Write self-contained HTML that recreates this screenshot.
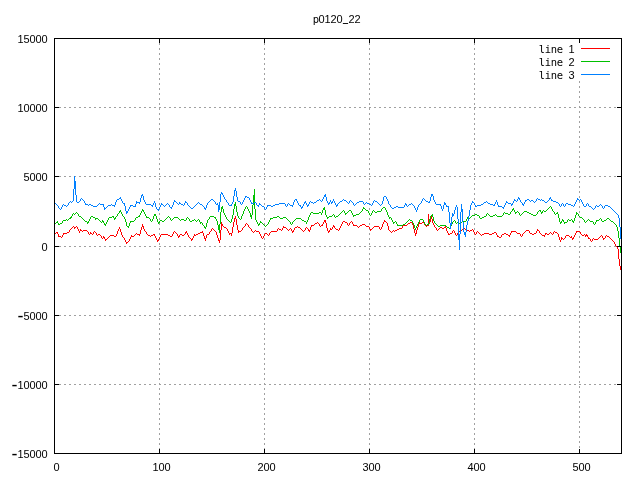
<!DOCTYPE html>
<html><head><meta charset="utf-8"><title>p0120_22</title>
<style>html,body{margin:0;padding:0;background:#fff;overflow:hidden}svg{display:block}text{font-family:"Liberation Sans","DejaVu Sans",sans-serif;font-size:11px;fill:#000}.h{font-size:18px}.u{font-size:14px}.m{font-family:"DejaVu Sans Mono","Liberation Mono",monospace;font-size:10.5px}</style></head><body>
<svg width="640" height="480" viewBox="0 0 640 480">
<rect width="640" height="480" fill="#fff"/>
<g stroke="#a0a0a0" stroke-width="1" stroke-dasharray="2 3" shape-rendering="crispEdges" fill="none">
<path d="M159.5 38 V453"/>
<path d="M264.5 38 V453"/>
<path d="M369.5 38 V453"/>
<path d="M474.5 38 V453"/>
<path d="M579.5 81 V453"/>
<path d="M54 107.5 H622"/>
<path d="M54 176.5 H622"/>
<path d="M54 246.5 H622"/>
<path d="M54 315.5 H622"/>
<path d="M54 384.5 H622"/>
</g>
<path fill="#ff0000" shape-rendering="crispEdges" d="M55 233h1v1h-1zM56 232h1v1h-1zM57 232h1v2h-1zM58 234h1v3h-1zM59 236h1v1h-1zM60 236h1v1h-1zM61 237h1v1h-1zM62 235h1v2h-1zM63 233h1v2h-1zM64 233h1v1h-1zM65 233h1v1h-1zM66 233h1v1h-1zM67 232h1v1h-1zM68 232h1v1h-1zM69 230h1v2h-1zM70 229h1v1h-1zM71 228h1v1h-1zM72 227h1v1h-1zM73 226h1v1h-1zM74 227h1v2h-1zM75 227h1v1h-1zM76 226h1v1h-1zM77 227h1v2h-1zM78 229h1v2h-1zM79 231h1v2h-1zM80 229h1v2h-1zM81 230h1v1h-1zM82 231h1v1h-1zM83 230h1v1h-1zM84 230h1v1h-1zM85 230h1v1h-1zM86 230h1v1h-1zM87 231h1v1h-1zM88 232h1v2h-1zM89 234h1v1h-1zM90 232h1v2h-1zM91 233h1v1h-1zM92 234h1v1h-1zM93 232h1v2h-1zM94 231h1v1h-1zM95 232h1v1h-1zM96 233h1v2h-1zM97 235h1v1h-1zM98 234h1v1h-1zM99 234h1v1h-1zM100 235h1v1h-1zM101 236h1v2h-1zM102 238h1v1h-1zM103 236h1v2h-1zM104 237h1v2h-1zM105 239h1v2h-1zM106 239h1v1h-1zM107 238h1v1h-1zM108 237h1v1h-1zM109 236h1v1h-1zM110 235h1v1h-1zM111 235h1v1h-1zM112 235h1v1h-1zM113 235h1v1h-1zM114 236h1v1h-1zM115 236h1v1h-1zM116 234h1v2h-1zM117 231h1v3h-1zM118 229h1v2h-1zM119 227h1v2h-1zM120 229h1v3h-1zM121 232h1v3h-1zM122 235h1v2h-1zM123 237h1v1h-1zM124 238h1v2h-1zM125 240h1v2h-1zM126 242h1v2h-1zM127 242h1v1h-1zM128 241h1v1h-1zM129 239h1v2h-1zM130 237h1v2h-1zM131 235h1v2h-1zM132 236h1v1h-1zM133 236h1v1h-1zM134 235h1v1h-1zM135 234h1v1h-1zM136 233h1v1h-1zM137 234h1v1h-1zM138 234h1v1h-1zM139 234h1v2h-1zM140 230h1v4h-1zM141 227h1v3h-1zM142 224h1v3h-1zM143 226h1v3h-1zM144 229h1v2h-1zM145 231h1v1h-1zM146 232h1v2h-1zM147 234h1v1h-1zM148 235h1v1h-1zM149 235h1v1h-1zM150 236h1v1h-1zM151 235h1v1h-1zM152 235h1v1h-1zM153 234h1v1h-1zM154 234h1v2h-1zM155 236h1v2h-1zM156 238h1v2h-1zM157 240h1v2h-1zM158 239h1v2h-1zM159 237h1v2h-1zM160 235h1v2h-1zM161 234h1v1h-1zM162 234h1v1h-1zM163 234h1v1h-1zM164 234h1v1h-1zM165 234h1v1h-1zM166 234h1v1h-1zM167 234h1v1h-1zM168 235h1v1h-1zM169 235h1v1h-1zM170 236h1v1h-1zM171 236h1v1h-1zM172 234h1v2h-1zM173 232h1v2h-1zM174 231h1v1h-1zM175 232h1v1h-1zM176 233h1v1h-1zM177 234h1v2h-1zM178 236h1v2h-1zM179 235h1v2h-1zM180 234h1v1h-1zM181 234h1v1h-1zM182 235h1v1h-1zM183 235h1v1h-1zM184 234h1v1h-1zM185 232h1v2h-1zM186 231h1v2h-1zM187 233h1v2h-1zM188 235h1v2h-1zM189 237h1v1h-1zM190 238h1v1h-1zM191 239h1v2h-1zM192 238h1v2h-1zM193 236h1v2h-1zM194 234h1v2h-1zM195 235h1v1h-1zM196 234h1v1h-1zM197 234h1v1h-1zM198 233h1v1h-1zM199 233h1v1h-1zM200 232h1v1h-1zM201 232h1v1h-1zM202 231h1v2h-1zM203 233h1v3h-1zM204 236h1v3h-1zM205 238h1v3h-1zM206 235h1v3h-1zM207 234h1v1h-1zM208 234h1v1h-1zM209 232h1v2h-1zM210 231h1v1h-1zM211 229h1v2h-1zM212 228h1v1h-1zM213 229h1v1h-1zM214 230h1v1h-1zM215 231h1v1h-1zM216 232h1v3h-1zM217 235h1v3h-1zM218 238h1v3h-1zM219 240h1v3h-1zM220 230h1v10h-1zM221 222h1v8h-1zM222 224h1v2h-1zM223 226h1v1h-1zM224 227h1v1h-1zM225 227h1v1h-1zM226 228h1v1h-1zM227 229h1v2h-1zM228 231h1v2h-1zM229 233h1v2h-1zM230 233h1v1h-1zM231 233h1v3h-1zM232 227h1v6h-1zM233 222h1v5h-1zM234 218h1v4h-1zM235 216h1v3h-1zM236 219h1v6h-1zM237 225h1v5h-1zM238 230h1v3h-1zM239 231h1v1h-1zM240 231h1v1h-1zM241 230h1v1h-1zM242 228h1v2h-1zM243 227h1v1h-1zM244 226h1v1h-1zM245 224h1v2h-1zM246 223h1v1h-1zM247 224h1v1h-1zM248 225h1v2h-1zM249 227h1v1h-1zM250 228h1v1h-1zM251 229h1v2h-1zM252 231h1v1h-1zM253 232h1v1h-1zM254 231h1v1h-1zM255 230h1v1h-1zM256 231h1v1h-1zM257 231h1v1h-1zM258 231h1v1h-1zM259 232h1v2h-1zM260 234h1v2h-1zM261 236h1v2h-1zM262 238h1v1h-1zM263 236h1v2h-1zM264 234h1v2h-1zM265 233h1v1h-1zM266 233h1v1h-1zM267 234h1v1h-1zM268 235h1v1h-1zM269 233h1v2h-1zM270 232h1v1h-1zM271 231h1v1h-1zM272 231h1v1h-1zM273 231h1v1h-1zM274 231h1v1h-1zM275 231h1v1h-1zM276 231h1v1h-1zM277 229h1v2h-1zM278 228h1v1h-1zM279 229h1v1h-1zM280 229h1v1h-1zM281 230h1v1h-1zM282 228h1v2h-1zM283 226h1v2h-1zM284 227h1v1h-1zM285 227h1v1h-1zM286 228h1v1h-1zM287 229h1v1h-1zM288 230h1v1h-1zM289 229h1v1h-1zM290 228h1v1h-1zM291 229h1v2h-1zM292 231h1v2h-1zM293 230h1v2h-1zM294 228h1v2h-1zM295 227h1v1h-1zM296 227h1v1h-1zM297 226h1v1h-1zM298 227h1v1h-1zM299 227h1v1h-1zM300 228h1v1h-1zM301 229h1v1h-1zM302 230h1v1h-1zM303 231h1v1h-1zM304 230h1v1h-1zM305 228h1v2h-1zM306 227h1v1h-1zM307 228h1v1h-1zM308 229h1v2h-1zM309 230h1v2h-1zM310 227h1v3h-1zM311 225h1v2h-1zM312 225h1v1h-1zM313 225h1v1h-1zM314 224h1v1h-1zM315 223h1v1h-1zM316 223h1v1h-1zM317 222h1v1h-1zM318 223h1v1h-1zM319 224h1v2h-1zM320 226h1v1h-1zM321 225h1v1h-1zM322 224h1v2h-1zM323 222h1v2h-1zM324 220h1v2h-1zM325 220h1v3h-1zM326 223h1v5h-1zM327 228h1v3h-1zM328 231h1v2h-1zM329 230h1v2h-1zM330 228h1v2h-1zM331 229h1v1h-1zM332 227h1v2h-1zM333 225h1v2h-1zM334 226h1v2h-1zM335 228h1v1h-1zM336 229h1v1h-1zM337 229h1v1h-1zM338 230h1v1h-1zM339 228h1v2h-1zM340 226h1v2h-1zM341 224h1v2h-1zM342 222h1v2h-1zM343 221h1v1h-1zM344 221h1v1h-1zM345 222h1v1h-1zM346 222h1v1h-1zM347 223h1v2h-1zM348 225h1v1h-1zM349 223h1v2h-1zM350 222h1v1h-1zM351 221h1v1h-1zM352 222h1v2h-1zM353 224h1v2h-1zM354 225h1v1h-1zM355 225h1v1h-1zM356 225h1v1h-1zM357 226h1v1h-1zM358 227h1v1h-1zM359 226h1v1h-1zM360 225h1v1h-1zM361 225h1v1h-1zM362 224h1v1h-1zM363 224h1v1h-1zM364 224h1v1h-1zM365 225h1v1h-1zM366 226h1v1h-1zM367 226h1v1h-1zM368 226h1v1h-1zM369 227h1v2h-1zM370 229h1v2h-1zM371 229h1v1h-1zM372 228h1v1h-1zM373 227h1v1h-1zM374 226h1v1h-1zM375 226h1v1h-1zM376 226h1v1h-1zM377 226h1v1h-1zM378 226h1v1h-1zM379 227h1v2h-1zM380 229h1v1h-1zM381 227h1v2h-1zM382 224h1v3h-1zM383 222h1v2h-1zM384 220h1v2h-1zM385 221h1v1h-1zM386 222h1v1h-1zM387 223h1v3h-1zM388 226h1v4h-1zM389 230h1v1h-1zM390 231h1v1h-1zM391 232h1v1h-1zM392 231h1v1h-1zM393 230h1v1h-1zM394 231h1v1h-1zM395 230h1v1h-1zM396 230h1v1h-1zM397 229h1v1h-1zM398 229h1v1h-1zM399 228h1v1h-1zM400 228h1v1h-1zM401 228h1v1h-1zM402 226h1v2h-1zM403 225h1v1h-1zM404 225h1v1h-1zM405 225h1v1h-1zM406 225h1v1h-1zM407 224h1v1h-1zM408 223h1v1h-1zM409 223h1v1h-1zM410 222h1v1h-1zM411 222h1v1h-1zM412 223h1v2h-1zM413 225h1v4h-1zM414 229h1v4h-1zM415 233h1v3h-1zM416 230h1v4h-1zM417 227h1v3h-1zM418 224h1v3h-1zM419 222h1v2h-1zM420 223h1v1h-1zM421 223h1v1h-1zM422 222h1v1h-1zM423 222h1v1h-1zM424 223h1v2h-1zM425 225h1v1h-1zM426 226h1v1h-1zM427 225h1v1h-1zM428 214h1v12h-1zM429 219h1v5h-1zM430 218h1v4h-1zM431 216h1v3h-1zM432 219h1v4h-1zM433 223h1v2h-1zM434 225h1v2h-1zM435 227h1v1h-1zM436 228h1v2h-1zM437 230h1v1h-1zM438 229h1v1h-1zM439 228h1v1h-1zM440 227h1v1h-1zM441 227h1v1h-1zM442 228h1v1h-1zM443 228h1v1h-1zM444 227h1v1h-1zM445 226h1v2h-1zM446 228h1v3h-1zM447 231h1v2h-1zM448 233h1v2h-1zM449 234h1v1h-1zM450 233h1v1h-1zM451 233h1v1h-1zM452 231h1v2h-1zM453 230h1v1h-1zM454 231h1v2h-1zM455 233h1v2h-1zM456 235h1v1h-1zM457 233h1v2h-1zM458 232h1v1h-1zM459 231h1v1h-1zM460 231h1v1h-1zM461 230h1v1h-1zM462 229h1v1h-1zM463 229h1v1h-1zM464 228h1v1h-1zM465 229h1v1h-1zM466 229h1v1h-1zM467 230h1v1h-1zM468 230h1v1h-1zM469 231h1v1h-1zM470 230h1v1h-1zM471 230h1v1h-1zM472 229h1v1h-1zM473 230h1v2h-1zM474 232h1v2h-1zM475 234h1v1h-1zM476 232h1v2h-1zM477 231h1v1h-1zM478 232h1v1h-1zM479 233h1v1h-1zM480 234h1v1h-1zM481 235h1v1h-1zM482 234h1v1h-1zM483 234h1v1h-1zM484 233h1v1h-1zM485 233h1v1h-1zM486 233h1v1h-1zM487 233h1v1h-1zM488 233h1v1h-1zM489 234h1v1h-1zM490 234h1v1h-1zM491 234h1v1h-1zM492 233h1v1h-1zM493 233h1v1h-1zM494 232h1v1h-1zM495 232h1v1h-1zM496 233h1v2h-1zM497 235h1v2h-1zM498 236h1v1h-1zM499 237h1v1h-1zM500 237h1v1h-1zM501 235h1v2h-1zM502 234h1v1h-1zM503 234h1v1h-1zM504 233h1v1h-1zM505 233h1v1h-1zM506 234h1v1h-1zM507 234h1v1h-1zM508 235h1v1h-1zM509 235h1v2h-1zM510 233h1v2h-1zM511 231h1v2h-1zM512 231h1v1h-1zM513 231h1v1h-1zM514 231h1v1h-1zM515 231h1v1h-1zM516 232h1v1h-1zM517 233h1v1h-1zM518 233h1v1h-1zM519 233h1v1h-1zM520 234h1v2h-1zM521 236h1v1h-1zM522 234h1v2h-1zM523 233h1v1h-1zM524 232h1v1h-1zM525 231h1v1h-1zM526 230h1v1h-1zM527 230h1v1h-1zM528 230h1v1h-1zM529 231h1v2h-1zM530 233h1v1h-1zM531 233h1v1h-1zM532 234h1v1h-1zM533 234h1v1h-1zM534 233h1v1h-1zM535 233h1v1h-1zM536 231h1v2h-1zM537 229h1v2h-1zM538 230h1v1h-1zM539 231h1v2h-1zM540 233h1v1h-1zM541 234h1v1h-1zM542 235h1v1h-1zM543 235h1v1h-1zM544 235h1v2h-1zM545 233h1v2h-1zM546 233h1v1h-1zM547 234h1v1h-1zM548 234h1v1h-1zM549 233h1v1h-1zM550 232h1v1h-1zM551 233h1v1h-1zM552 234h1v1h-1zM553 232h1v2h-1zM554 231h1v1h-1zM555 232h1v1h-1zM556 232h1v1h-1zM557 233h1v1h-1zM558 234h1v3h-1zM559 237h1v3h-1zM560 240h1v2h-1zM561 237h1v3h-1zM562 238h1v1h-1zM563 239h1v1h-1zM564 238h1v1h-1zM565 236h1v2h-1zM566 235h1v1h-1zM567 235h1v1h-1zM568 235h1v1h-1zM569 236h1v1h-1zM570 237h1v1h-1zM571 236h1v2h-1zM572 238h1v2h-1zM573 237h1v2h-1zM574 235h1v2h-1zM575 233h1v2h-1zM576 231h1v2h-1zM577 231h1v1h-1zM578 231h1v1h-1zM579 231h1v1h-1zM580 232h1v2h-1zM581 234h1v1h-1zM582 235h1v1h-1zM583 235h1v1h-1zM584 234h1v1h-1zM585 235h1v2h-1zM586 234h1v2h-1zM587 235h1v2h-1zM588 237h1v2h-1zM589 238h1v1h-1zM590 239h1v2h-1zM591 241h1v1h-1zM592 239h1v2h-1zM593 238h1v1h-1zM594 239h1v1h-1zM595 239h1v1h-1zM596 239h1v1h-1zM597 239h1v1h-1zM598 238h1v1h-1zM599 237h1v1h-1zM600 236h1v1h-1zM601 235h1v1h-1zM602 236h1v2h-1zM603 238h1v2h-1zM604 238h1v1h-1zM605 236h1v2h-1zM606 235h1v1h-1zM607 236h1v1h-1zM608 236h1v1h-1zM609 237h1v1h-1zM610 238h1v1h-1zM611 239h1v1h-1zM612 240h1v1h-1zM613 241h1v1h-1zM614 242h1v2h-1zM615 244h1v2h-1zM616 246h1v1h-1zM617 247h1v2h-1zM618 249h1v10h-1zM619 259h1v7h-1zM620 266h1v4h-1z"/>
<path fill="#00c000" shape-rendering="crispEdges" d="M55 223h1v1h-1zM56 222h1v1h-1zM57 221h1v2h-1zM58 223h1v2h-1zM59 224h1v1h-1zM60 223h1v1h-1zM61 223h1v1h-1zM62 221h1v2h-1zM63 220h1v1h-1zM64 220h1v1h-1zM65 220h1v1h-1zM66 219h1v1h-1zM67 220h1v1h-1zM68 219h1v1h-1zM69 218h1v1h-1zM70 217h1v2h-1zM71 216h1v2h-1zM72 214h1v2h-1zM73 213h1v1h-1zM74 214h1v1h-1zM75 213h1v1h-1zM76 212h1v1h-1zM77 213h1v1h-1zM78 214h1v2h-1zM79 216h1v1h-1zM80 216h1v1h-1zM81 217h1v1h-1zM82 218h1v1h-1zM83 219h1v1h-1zM84 220h1v1h-1zM85 221h1v1h-1zM86 221h1v1h-1zM87 222h1v2h-1zM88 221h1v2h-1zM89 219h1v2h-1zM90 217h1v2h-1zM91 216h1v1h-1zM92 216h1v1h-1zM93 217h1v1h-1zM94 217h1v1h-1zM95 218h1v2h-1zM96 218h1v1h-1zM97 218h1v1h-1zM98 219h1v1h-1zM99 220h1v1h-1zM100 221h1v1h-1zM101 222h1v1h-1zM102 220h1v2h-1zM103 221h1v2h-1zM104 223h1v2h-1zM105 224h1v2h-1zM106 222h1v2h-1zM107 220h1v2h-1zM108 218h1v2h-1zM109 217h1v1h-1zM110 217h1v1h-1zM111 217h1v1h-1zM112 216h1v1h-1zM113 216h1v2h-1zM114 218h1v2h-1zM115 217h1v2h-1zM116 216h1v1h-1zM117 214h1v2h-1zM118 213h1v1h-1zM119 211h1v2h-1zM120 210h1v2h-1zM121 212h1v2h-1zM122 214h1v2h-1zM123 216h1v1h-1zM124 217h1v2h-1zM125 219h1v3h-1zM126 222h1v4h-1zM127 226h1v1h-1zM128 226h1v2h-1zM129 223h1v3h-1zM130 221h1v2h-1zM131 221h1v1h-1zM132 221h1v1h-1zM133 221h1v1h-1zM134 220h1v1h-1zM135 218h1v2h-1zM136 217h1v1h-1zM137 217h1v1h-1zM138 216h1v1h-1zM139 215h1v2h-1zM140 213h1v2h-1zM141 211h1v2h-1zM142 209h1v2h-1zM143 210h1v2h-1zM144 212h1v2h-1zM145 214h1v2h-1zM146 216h1v2h-1zM147 217h1v1h-1zM148 217h1v1h-1zM149 218h1v1h-1zM150 219h1v2h-1zM151 221h1v1h-1zM152 219h1v2h-1zM153 216h1v3h-1zM154 214h1v2h-1zM155 214h1v2h-1zM156 216h1v3h-1zM157 219h1v3h-1zM158 222h1v2h-1zM159 221h1v2h-1zM160 220h1v1h-1zM161 220h1v1h-1zM162 221h1v1h-1zM163 221h1v1h-1zM164 220h1v1h-1zM165 219h1v1h-1zM166 218h1v1h-1zM167 217h1v1h-1zM168 216h1v1h-1zM169 217h1v1h-1zM170 218h1v2h-1zM171 220h1v1h-1zM172 219h1v1h-1zM173 218h1v1h-1zM174 217h1v1h-1zM175 217h1v1h-1zM176 217h1v1h-1zM177 217h1v1h-1zM178 218h1v1h-1zM179 219h1v1h-1zM180 220h1v1h-1zM181 219h1v1h-1zM182 219h1v1h-1zM183 219h1v1h-1zM184 220h1v1h-1zM185 220h1v1h-1zM186 218h1v2h-1zM187 217h1v1h-1zM188 218h1v1h-1zM189 219h1v2h-1zM190 221h1v1h-1zM191 221h1v1h-1zM192 220h1v1h-1zM193 220h1v1h-1zM194 219h1v1h-1zM195 220h1v1h-1zM196 221h1v1h-1zM197 220h1v1h-1zM198 219h1v1h-1zM199 220h1v2h-1zM200 222h1v2h-1zM201 222h1v1h-1zM202 223h1v2h-1zM203 225h1v1h-1zM204 226h1v2h-1zM205 227h1v2h-1zM206 223h1v4h-1zM207 220h1v3h-1zM208 219h1v1h-1zM209 217h1v2h-1zM210 216h1v1h-1zM211 216h1v1h-1zM212 216h1v1h-1zM213 216h1v1h-1zM214 217h1v1h-1zM215 217h1v2h-1zM216 219h1v2h-1zM217 221h1v4h-1zM218 225h1v5h-1zM219 224h1v9h-1zM220 212h1v12h-1zM221 207h1v5h-1zM222 206h1v3h-1zM223 209h1v4h-1zM224 213h1v2h-1zM225 215h1v2h-1zM226 217h1v2h-1zM227 219h1v1h-1zM228 220h1v1h-1zM229 221h1v1h-1zM230 222h1v1h-1zM231 219h1v3h-1zM232 215h1v4h-1zM233 209h1v6h-1zM234 204h1v5h-1zM235 202h1v4h-1zM236 206h1v6h-1zM237 212h1v4h-1zM238 216h1v2h-1zM239 218h1v1h-1zM240 219h1v1h-1zM241 216h1v3h-1zM242 214h1v2h-1zM243 211h1v3h-1zM244 209h1v2h-1zM245 207h1v2h-1zM246 206h1v1h-1zM247 207h1v2h-1zM248 209h1v2h-1zM249 211h1v2h-1zM250 213h1v4h-1zM251 215h1v4h-1zM252 205h1v10h-1zM253 195h1v10h-1zM254 189h1v20h-1zM255 209h1v11h-1zM256 220h1v2h-1zM257 222h1v2h-1zM258 224h1v2h-1zM259 223h1v2h-1zM260 221h1v2h-1zM261 222h1v1h-1zM262 223h1v1h-1zM263 224h1v1h-1zM264 225h1v1h-1zM265 226h1v1h-1zM266 225h1v1h-1zM267 224h1v1h-1zM268 222h1v2h-1zM269 220h1v2h-1zM270 218h1v2h-1zM271 218h1v1h-1zM272 218h1v1h-1zM273 217h1v1h-1zM274 217h1v1h-1zM275 217h1v1h-1zM276 217h1v1h-1zM277 216h1v1h-1zM278 216h1v1h-1zM279 217h1v1h-1zM280 218h1v1h-1zM281 218h1v1h-1zM282 218h1v1h-1zM283 217h1v1h-1zM284 217h1v1h-1zM285 217h1v1h-1zM286 218h1v1h-1zM287 219h1v1h-1zM288 220h1v1h-1zM289 221h1v1h-1zM290 222h1v2h-1zM291 224h1v1h-1zM292 222h1v2h-1zM293 221h1v1h-1zM294 220h1v1h-1zM295 219h1v1h-1zM296 218h1v1h-1zM297 218h1v1h-1zM298 218h1v1h-1zM299 218h1v1h-1zM300 218h1v1h-1zM301 219h1v1h-1zM302 220h1v1h-1zM303 220h1v1h-1zM304 221h1v1h-1zM305 221h1v1h-1zM306 222h1v2h-1zM307 220h1v2h-1zM308 217h1v3h-1zM309 215h1v2h-1zM310 213h1v2h-1zM311 212h1v1h-1zM312 212h1v1h-1zM313 213h1v1h-1zM314 213h1v1h-1zM315 213h1v1h-1zM316 213h1v1h-1zM317 213h1v1h-1zM318 213h1v1h-1zM319 212h1v1h-1zM320 212h1v1h-1zM321 213h1v2h-1zM322 210h1v3h-1zM323 208h1v2h-1zM324 207h1v3h-1zM325 210h1v5h-1zM326 215h1v2h-1zM327 217h1v2h-1zM328 217h1v1h-1zM329 216h1v1h-1zM330 216h1v1h-1zM331 216h1v1h-1zM332 215h1v1h-1zM333 214h1v1h-1zM334 215h1v2h-1zM335 217h1v1h-1zM336 216h1v1h-1zM337 216h1v1h-1zM338 215h1v1h-1zM339 214h1v1h-1zM340 213h1v1h-1zM341 212h1v1h-1zM342 211h1v1h-1zM343 210h1v1h-1zM344 211h1v2h-1zM345 213h1v2h-1zM346 213h1v1h-1zM347 212h1v1h-1zM348 211h1v1h-1zM349 210h1v1h-1zM350 210h1v1h-1zM351 211h1v2h-1zM352 213h1v2h-1zM353 215h1v2h-1zM354 215h1v1h-1zM355 215h1v1h-1zM356 214h1v1h-1zM357 214h1v1h-1zM358 214h1v1h-1zM359 213h1v1h-1zM360 212h1v1h-1zM361 211h1v1h-1zM362 209h1v2h-1zM363 207h1v2h-1zM364 208h1v1h-1zM365 209h1v1h-1zM366 210h1v1h-1zM367 210h1v1h-1zM368 211h1v2h-1zM369 213h1v2h-1zM370 215h1v1h-1zM371 213h1v2h-1zM372 211h1v2h-1zM373 210h1v1h-1zM374 211h1v1h-1zM375 212h1v1h-1zM376 212h1v1h-1zM377 211h1v1h-1zM378 211h1v1h-1zM379 211h1v1h-1zM380 211h1v1h-1zM381 209h1v2h-1zM382 208h1v1h-1zM383 207h1v1h-1zM384 207h1v1h-1zM385 208h1v2h-1zM386 210h1v2h-1zM387 212h1v3h-1zM388 215h1v2h-1zM389 217h1v2h-1zM390 217h1v1h-1zM391 218h1v2h-1zM392 220h1v2h-1zM393 222h1v2h-1zM394 222h1v1h-1zM395 221h1v1h-1zM396 222h1v2h-1zM397 224h1v2h-1zM398 225h1v1h-1zM399 225h1v1h-1zM400 225h1v1h-1zM401 225h1v1h-1zM402 225h1v1h-1zM403 224h1v1h-1zM404 224h1v1h-1zM405 223h1v1h-1zM406 222h1v1h-1zM407 221h1v1h-1zM408 220h1v1h-1zM409 219h1v1h-1zM410 220h1v1h-1zM411 220h1v1h-1zM412 221h1v2h-1zM413 223h1v2h-1zM414 225h1v3h-1zM415 228h1v2h-1zM416 226h1v2h-1zM417 224h1v2h-1zM418 222h1v2h-1zM419 220h1v2h-1zM420 219h1v1h-1zM421 219h1v1h-1zM422 219h1v1h-1zM423 220h1v2h-1zM424 222h1v2h-1zM425 224h1v1h-1zM426 225h1v1h-1zM427 224h1v1h-1zM428 223h1v2h-1zM429 219h1v4h-1zM430 216h1v3h-1zM431 215h1v1h-1zM432 214h1v3h-1zM433 217h1v4h-1zM434 221h1v2h-1zM435 223h1v1h-1zM436 224h1v1h-1zM437 225h1v1h-1zM438 226h1v1h-1zM439 226h1v1h-1zM440 225h1v1h-1zM441 225h1v1h-1zM442 225h1v1h-1zM443 225h1v1h-1zM444 225h1v1h-1zM445 225h1v1h-1zM446 226h1v1h-1zM447 227h1v1h-1zM448 227h1v1h-1zM449 228h1v1h-1zM450 226h1v2h-1zM451 224h1v2h-1zM452 222h1v2h-1zM453 221h1v1h-1zM454 220h1v1h-1zM455 221h1v2h-1zM456 223h1v1h-1zM457 222h1v1h-1zM458 222h1v1h-1zM459 223h1v1h-1zM460 223h1v1h-1zM461 222h1v1h-1zM462 221h1v1h-1zM463 221h1v1h-1zM464 221h1v1h-1zM465 221h1v1h-1zM466 219h1v2h-1zM467 217h1v2h-1zM468 218h1v1h-1zM469 218h1v1h-1zM470 217h1v1h-1zM471 216h1v1h-1zM472 215h1v1h-1zM473 215h1v1h-1zM474 215h1v1h-1zM475 214h1v1h-1zM476 214h1v1h-1zM477 215h1v1h-1zM478 215h1v1h-1zM479 216h1v2h-1zM480 218h1v1h-1zM481 218h1v1h-1zM482 217h1v1h-1zM483 217h1v1h-1zM484 216h1v1h-1zM485 216h1v1h-1zM486 214h1v2h-1zM487 213h1v1h-1zM488 214h1v1h-1zM489 215h1v1h-1zM490 216h1v1h-1zM491 216h1v1h-1zM492 216h1v1h-1zM493 215h1v1h-1zM494 215h1v1h-1zM495 214h1v1h-1zM496 215h1v1h-1zM497 216h1v1h-1zM498 216h1v1h-1zM499 216h1v1h-1zM500 216h1v1h-1zM501 216h1v1h-1zM502 215h1v1h-1zM503 213h1v2h-1zM504 212h1v1h-1zM505 213h1v1h-1zM506 213h1v1h-1zM507 213h1v1h-1zM508 214h1v1h-1zM509 214h1v1h-1zM510 212h1v2h-1zM511 211h1v1h-1zM512 209h1v2h-1zM513 208h1v2h-1zM514 210h1v2h-1zM515 212h1v2h-1zM516 212h1v1h-1zM517 211h1v1h-1zM518 212h1v1h-1zM519 213h1v2h-1zM520 215h1v1h-1zM521 214h1v1h-1zM522 213h1v1h-1zM523 212h1v1h-1zM524 211h1v1h-1zM525 211h1v1h-1zM526 211h1v1h-1zM527 212h1v1h-1zM528 212h1v1h-1zM529 213h1v1h-1zM530 213h1v1h-1zM531 214h1v1h-1zM532 214h1v1h-1zM533 215h1v1h-1zM534 215h1v1h-1zM535 215h1v1h-1zM536 214h1v1h-1zM537 212h1v2h-1zM538 211h1v1h-1zM539 210h1v1h-1zM540 210h1v2h-1zM541 212h1v2h-1zM542 211h1v2h-1zM543 210h1v1h-1zM544 211h1v1h-1zM545 211h1v1h-1zM546 210h1v1h-1zM547 209h1v1h-1zM548 208h1v1h-1zM549 207h1v1h-1zM550 206h1v1h-1zM551 207h1v2h-1zM552 209h1v2h-1zM553 211h1v1h-1zM554 212h1v2h-1zM555 214h1v1h-1zM556 213h1v1h-1zM557 212h1v2h-1zM558 214h1v4h-1zM559 218h1v4h-1zM560 222h1v2h-1zM561 221h1v2h-1zM562 219h1v2h-1zM563 220h1v2h-1zM564 222h1v2h-1zM565 222h1v1h-1zM566 222h1v1h-1zM567 220h1v2h-1zM568 219h1v1h-1zM569 220h1v1h-1zM570 220h1v1h-1zM571 219h1v1h-1zM572 220h1v2h-1zM573 221h1v2h-1zM574 218h1v3h-1zM575 215h1v3h-1zM576 212h1v3h-1zM577 213h1v1h-1zM578 214h1v2h-1zM579 216h1v1h-1zM580 217h1v1h-1zM581 217h1v1h-1zM582 218h1v1h-1zM583 219h1v1h-1zM584 220h1v2h-1zM585 222h1v1h-1zM586 221h1v1h-1zM587 220h1v1h-1zM588 219h1v1h-1zM589 220h1v1h-1zM590 221h1v1h-1zM591 221h1v1h-1zM592 221h1v1h-1zM593 222h1v2h-1zM594 224h1v1h-1zM595 222h1v2h-1zM596 220h1v2h-1zM597 220h1v1h-1zM598 220h1v1h-1zM599 219h1v1h-1zM600 218h1v1h-1zM601 219h1v2h-1zM602 221h1v1h-1zM603 221h1v1h-1zM604 220h1v1h-1zM605 220h1v1h-1zM606 219h1v1h-1zM607 218h1v1h-1zM608 218h1v1h-1zM609 219h1v1h-1zM610 220h1v1h-1zM611 221h1v1h-1zM612 221h1v1h-1zM613 222h1v1h-1zM614 223h1v1h-1zM615 224h1v1h-1zM616 225h1v2h-1zM617 227h1v4h-1zM618 231h1v7h-1zM619 238h1v9h-1zM620 247h1v6h-1z"/>
<path fill="#0080ff" shape-rendering="crispEdges" d="M55 203h1v1h-1zM56 204h1v1h-1zM57 205h1v1h-1zM58 206h1v2h-1zM59 208h1v1h-1zM60 209h1v1h-1zM61 207h1v2h-1zM62 205h1v2h-1zM63 204h1v1h-1zM64 205h1v1h-1zM65 205h1v1h-1zM66 206h1v1h-1zM67 205h1v1h-1zM68 203h1v2h-1zM69 202h1v1h-1zM70 201h1v1h-1zM71 202h1v1h-1zM72 201h1v1h-1zM73 189h1v12h-1zM74 176h1v13h-1zM75 181h1v14h-1zM76 195h1v7h-1zM77 202h1v1h-1zM78 202h1v1h-1zM79 201h1v1h-1zM80 199h1v2h-1zM81 198h1v1h-1zM82 199h1v1h-1zM83 200h1v1h-1zM84 201h1v2h-1zM85 203h1v2h-1zM86 204h1v1h-1zM87 204h1v1h-1zM88 205h1v1h-1zM89 204h1v1h-1zM90 204h1v1h-1zM91 205h1v1h-1zM92 205h1v1h-1zM93 206h1v1h-1zM94 206h1v1h-1zM95 206h1v1h-1zM96 206h1v1h-1zM97 205h1v1h-1zM98 204h1v1h-1zM99 203h1v1h-1zM100 204h1v1h-1zM101 204h1v1h-1zM102 204h1v1h-1zM103 204h1v3h-1zM104 207h1v3h-1zM105 208h1v1h-1zM106 207h1v1h-1zM107 206h1v1h-1zM108 205h1v1h-1zM109 205h1v1h-1zM110 205h1v1h-1zM111 204h1v1h-1zM112 205h1v1h-1zM113 205h1v1h-1zM114 205h1v2h-1zM115 202h1v3h-1zM116 200h1v2h-1zM117 199h1v1h-1zM118 199h1v1h-1zM119 198h1v1h-1zM120 197h1v2h-1zM121 199h1v2h-1zM122 201h1v2h-1zM123 203h1v1h-1zM124 203h1v3h-1zM125 206h1v5h-1zM126 211h1v3h-1zM127 211h1v2h-1zM128 209h1v2h-1zM129 207h1v2h-1zM130 205h1v2h-1zM131 205h1v1h-1zM132 205h1v1h-1zM133 206h1v1h-1zM134 206h1v1h-1zM135 204h1v3h-1zM136 201h1v3h-1zM137 202h1v1h-1zM138 202h1v1h-1zM139 202h1v2h-1zM140 198h1v4h-1zM141 195h1v3h-1zM142 194h1v2h-1zM143 196h1v4h-1zM144 200h1v2h-1zM145 202h1v2h-1zM146 204h1v1h-1zM147 204h1v1h-1zM148 204h1v1h-1zM149 204h1v1h-1zM150 204h1v1h-1zM151 205h1v1h-1zM152 205h1v2h-1zM153 203h1v2h-1zM154 201h1v2h-1zM155 203h1v4h-1zM156 207h1v2h-1zM157 209h1v1h-1zM158 209h1v2h-1zM159 207h1v2h-1zM160 205h1v2h-1zM161 203h1v2h-1zM162 204h1v1h-1zM163 205h1v1h-1zM164 206h1v1h-1zM165 205h1v1h-1zM166 204h1v1h-1zM167 203h1v1h-1zM168 204h1v1h-1zM169 205h1v2h-1zM170 207h1v1h-1zM171 207h1v2h-1zM172 205h1v2h-1zM173 202h1v3h-1zM174 200h1v2h-1zM175 201h1v1h-1zM176 202h1v1h-1zM177 203h1v1h-1zM178 204h1v1h-1zM179 202h1v2h-1zM180 203h1v1h-1zM181 204h1v1h-1zM182 204h1v1h-1zM183 205h1v1h-1zM184 203h1v2h-1zM185 201h1v2h-1zM186 202h1v1h-1zM187 203h1v2h-1zM188 205h1v1h-1zM189 206h1v1h-1zM190 207h1v1h-1zM191 208h1v1h-1zM192 208h1v1h-1zM193 207h1v1h-1zM194 206h1v1h-1zM195 205h1v1h-1zM196 204h1v1h-1zM197 203h1v1h-1zM198 202h1v1h-1zM199 203h1v1h-1zM200 204h1v1h-1zM201 204h1v1h-1zM202 205h1v1h-1zM203 206h1v1h-1zM204 207h1v2h-1zM205 208h1v2h-1zM206 205h1v3h-1zM207 203h1v2h-1zM208 202h1v1h-1zM209 201h1v1h-1zM210 200h1v1h-1zM211 199h1v1h-1zM212 199h1v1h-1zM213 200h1v1h-1zM214 201h1v1h-1zM215 202h1v2h-1zM216 204h1v1h-1zM217 203h1v2h-1zM218 205h1v7h-1zM219 202h1v8h-1zM220 194h1v8h-1zM221 192h1v2h-1zM222 193h1v2h-1zM223 195h1v2h-1zM224 197h1v2h-1zM225 199h1v1h-1zM226 200h1v2h-1zM227 202h1v1h-1zM228 203h1v2h-1zM229 205h1v1h-1zM230 205h1v1h-1zM231 204h1v2h-1zM232 202h1v2h-1zM233 196h1v6h-1zM234 190h1v6h-1zM235 188h1v3h-1zM236 191h1v6h-1zM237 197h1v4h-1zM238 201h1v1h-1zM239 201h1v1h-1zM240 202h1v2h-1zM241 204h1v1h-1zM242 202h1v2h-1zM243 200h1v2h-1zM244 198h1v2h-1zM245 196h1v2h-1zM246 196h1v1h-1zM247 197h1v1h-1zM248 197h1v1h-1zM249 198h1v2h-1zM250 200h1v2h-1zM251 202h1v2h-1zM252 203h1v1h-1zM253 203h1v1h-1zM254 202h1v1h-1zM255 202h1v1h-1zM256 203h1v2h-1zM257 205h1v1h-1zM258 205h1v2h-1zM259 203h1v2h-1zM260 204h1v1h-1zM261 205h1v1h-1zM262 206h1v1h-1zM263 206h1v1h-1zM264 207h1v2h-1zM265 209h1v1h-1zM266 207h1v2h-1zM267 205h1v2h-1zM268 205h1v1h-1zM269 205h1v1h-1zM270 205h1v1h-1zM271 206h1v1h-1zM272 206h1v1h-1zM273 205h1v1h-1zM274 205h1v1h-1zM275 204h1v1h-1zM276 204h1v1h-1zM277 204h1v1h-1zM278 204h1v1h-1zM279 203h1v1h-1zM280 203h1v1h-1zM281 203h1v1h-1zM282 203h1v1h-1zM283 203h1v1h-1zM284 203h1v1h-1zM285 204h1v2h-1zM286 206h1v1h-1zM287 204h1v2h-1zM288 203h1v1h-1zM289 204h1v1h-1zM290 205h1v1h-1zM291 205h1v1h-1zM292 205h1v2h-1zM293 202h1v3h-1zM294 200h1v2h-1zM295 199h1v1h-1zM296 199h1v2h-1zM297 201h1v2h-1zM298 203h1v2h-1zM299 205h1v1h-1zM300 205h1v2h-1zM301 207h1v2h-1zM302 206h1v2h-1zM303 204h1v2h-1zM304 202h1v2h-1zM305 201h1v2h-1zM306 203h1v2h-1zM307 205h1v2h-1zM308 204h1v2h-1zM309 202h1v2h-1zM310 201h1v1h-1zM311 202h1v1h-1zM312 202h1v1h-1zM313 203h1v1h-1zM314 202h1v1h-1zM315 202h1v1h-1zM316 201h1v1h-1zM317 200h1v1h-1zM318 200h1v1h-1zM319 199h1v1h-1zM320 200h1v1h-1zM321 201h1v1h-1zM322 199h1v2h-1zM323 197h1v2h-1zM324 195h1v2h-1zM325 194h1v3h-1zM326 197h1v4h-1zM327 201h1v2h-1zM328 203h1v2h-1zM329 202h1v2h-1zM330 200h1v2h-1zM331 202h1v2h-1zM332 201h1v2h-1zM333 199h1v2h-1zM334 201h1v2h-1zM335 203h1v2h-1zM336 205h1v2h-1zM337 204h1v2h-1zM338 203h1v1h-1zM339 202h1v1h-1zM340 201h1v1h-1zM341 201h1v1h-1zM342 200h1v1h-1zM343 199h1v1h-1zM344 200h1v1h-1zM345 200h1v1h-1zM346 201h1v1h-1zM347 202h1v1h-1zM348 203h1v1h-1zM349 201h1v2h-1zM350 200h1v1h-1zM351 201h1v1h-1zM352 202h1v1h-1zM353 203h1v2h-1zM354 205h1v1h-1zM355 204h1v1h-1zM356 203h1v1h-1zM357 202h1v1h-1zM358 202h1v1h-1zM359 201h1v1h-1zM360 201h1v1h-1zM361 201h1v1h-1zM362 201h1v1h-1zM363 202h1v2h-1zM364 204h1v1h-1zM365 203h1v1h-1zM366 202h1v1h-1zM367 203h1v1h-1zM368 203h1v1h-1zM369 204h1v1h-1zM370 204h1v1h-1zM371 205h1v1h-1zM372 203h1v2h-1zM373 201h1v2h-1zM374 200h1v1h-1zM375 201h1v1h-1zM376 201h1v1h-1zM377 202h1v1h-1zM378 203h1v1h-1zM379 204h1v1h-1zM380 205h1v1h-1zM381 204h1v1h-1zM382 201h1v3h-1zM383 197h1v4h-1zM384 196h1v1h-1zM385 196h1v1h-1zM386 197h1v2h-1zM387 199h1v2h-1zM388 201h1v3h-1zM389 204h1v1h-1zM390 205h1v2h-1zM391 207h1v1h-1zM392 208h1v1h-1zM393 208h1v1h-1zM394 207h1v1h-1zM395 207h1v1h-1zM396 206h1v1h-1zM397 206h1v1h-1zM398 207h1v1h-1zM399 207h1v1h-1zM400 207h1v1h-1zM401 207h1v1h-1zM402 207h1v1h-1zM403 207h1v1h-1zM404 205h1v2h-1zM405 203h1v2h-1zM406 204h1v2h-1zM407 206h1v1h-1zM408 205h1v1h-1zM409 204h1v1h-1zM410 204h1v1h-1zM411 203h1v1h-1zM412 204h1v1h-1zM413 205h1v1h-1zM414 206h1v2h-1zM415 208h1v2h-1zM416 210h1v2h-1zM417 207h1v3h-1zM418 205h1v2h-1zM419 204h1v1h-1zM420 203h1v1h-1zM421 201h1v2h-1zM422 199h1v2h-1zM423 198h1v1h-1zM424 199h1v1h-1zM425 200h1v1h-1zM426 201h1v1h-1zM427 201h1v1h-1zM428 202h1v1h-1zM429 201h1v2h-1zM430 197h1v4h-1zM431 194h1v3h-1zM432 194h1v2h-1zM433 196h1v4h-1zM434 200h1v2h-1zM435 202h1v2h-1zM436 204h1v1h-1zM437 204h1v1h-1zM438 204h1v1h-1zM439 204h1v1h-1zM440 204h1v2h-1zM441 206h1v3h-1zM442 209h1v2h-1zM443 205h1v4h-1zM444 202h1v3h-1zM445 203h1v2h-1zM446 205h1v2h-1zM447 206h1v1h-1zM448 206h1v6h-1zM449 212h1v11h-1zM450 223h1v6h-1zM451 217h1v8h-1zM452 213h1v4h-1zM453 214h1v2h-1zM454 210h1v4h-1zM455 207h1v3h-1zM456 205h1v2h-1zM457 207h1v12h-1zM458 219h1v21h-1zM459 234h1v16h-1zM460 212h1v22h-1zM461 204h1v8h-1zM462 209h1v13h-1zM463 222h1v10h-1zM464 232h1v3h-1zM465 232h1v5h-1zM466 225h1v7h-1zM467 221h1v4h-1zM468 216h1v5h-1zM469 210h1v6h-1zM470 205h1v5h-1zM471 203h1v2h-1zM472 201h1v2h-1zM473 202h1v1h-1zM474 203h1v2h-1zM475 205h1v2h-1zM476 206h1v1h-1zM477 205h1v1h-1zM478 205h1v1h-1zM479 205h1v1h-1zM480 205h1v1h-1zM481 204h1v1h-1zM482 204h1v1h-1zM483 203h1v1h-1zM484 202h1v1h-1zM485 202h1v1h-1zM486 201h1v1h-1zM487 202h1v1h-1zM488 203h1v1h-1zM489 203h1v1h-1zM490 204h1v1h-1zM491 204h1v1h-1zM492 204h1v1h-1zM493 205h1v1h-1zM494 204h1v2h-1zM495 202h1v2h-1zM496 200h1v2h-1zM497 202h1v3h-1zM498 205h1v2h-1zM499 206h1v1h-1zM500 206h1v1h-1zM501 206h1v1h-1zM502 207h1v1h-1zM503 207h1v2h-1zM504 205h1v2h-1zM505 203h1v2h-1zM506 201h1v2h-1zM507 202h1v1h-1zM508 203h1v1h-1zM509 203h1v1h-1zM510 203h1v1h-1zM511 204h1v2h-1zM512 203h1v2h-1zM513 201h1v2h-1zM514 199h1v2h-1zM515 200h1v1h-1zM516 201h1v1h-1zM517 199h1v2h-1zM518 197h1v2h-1zM519 198h1v2h-1zM520 200h1v2h-1zM521 202h1v1h-1zM522 203h1v2h-1zM523 204h1v2h-1zM524 202h1v2h-1zM525 200h1v2h-1zM526 200h1v1h-1zM527 199h1v1h-1zM528 199h1v1h-1zM529 200h1v1h-1zM530 201h1v1h-1zM531 200h1v1h-1zM532 200h1v1h-1zM533 201h1v1h-1zM534 202h1v1h-1zM535 201h1v1h-1zM536 199h1v2h-1zM537 198h1v1h-1zM538 199h1v1h-1zM539 199h1v1h-1zM540 200h1v1h-1zM541 199h1v1h-1zM542 200h1v1h-1zM543 200h1v1h-1zM544 201h1v1h-1zM545 202h1v1h-1zM546 202h1v1h-1zM547 201h1v1h-1zM548 200h1v1h-1zM549 198h1v2h-1zM550 197h1v2h-1zM551 199h1v2h-1zM552 200h1v1h-1zM553 201h1v1h-1zM554 201h1v1h-1zM555 201h1v1h-1zM556 202h1v1h-1zM557 202h1v1h-1zM558 203h1v1h-1zM559 204h1v2h-1zM560 206h1v1h-1zM561 204h1v2h-1zM562 203h1v1h-1zM563 204h1v2h-1zM564 206h1v1h-1zM565 204h1v2h-1zM566 203h1v1h-1zM567 203h1v1h-1zM568 204h1v1h-1zM569 204h1v1h-1zM570 204h1v1h-1zM571 205h1v1h-1zM572 205h1v1h-1zM573 206h1v1h-1zM574 204h1v2h-1zM575 202h1v2h-1zM576 200h1v2h-1zM577 198h1v2h-1zM578 199h1v1h-1zM579 200h1v1h-1zM580 199h1v1h-1zM581 200h1v2h-1zM582 202h1v2h-1zM583 204h1v2h-1zM584 206h1v1h-1zM585 206h1v1h-1zM586 204h1v2h-1zM587 203h1v1h-1zM588 204h1v2h-1zM589 206h1v1h-1zM590 206h1v1h-1zM591 207h1v1h-1zM592 208h1v1h-1zM593 209h1v1h-1zM594 208h1v1h-1zM595 206h1v2h-1zM596 205h1v1h-1zM597 206h1v1h-1zM598 206h1v1h-1zM599 205h1v1h-1zM600 204h1v1h-1zM601 205h1v1h-1zM602 206h1v2h-1zM603 208h1v1h-1zM604 206h1v2h-1zM605 205h1v1h-1zM606 205h1v1h-1zM607 205h1v1h-1zM608 206h1v1h-1zM609 206h1v1h-1zM610 207h1v1h-1zM611 208h1v1h-1zM612 209h1v1h-1zM613 210h1v1h-1zM614 211h1v1h-1zM615 212h1v1h-1zM616 213h1v1h-1zM617 214h1v1h-1zM618 215h1v3h-1zM619 218h1v9h-1zM620 227h1v12h-1z"/>
<g stroke="#000" stroke-width="1" shape-rendering="crispEdges" fill="none">
<rect x="54.5" y="38.5" width="567" height="415"/>
<path d="M159.5 454 v-5 M159.5 38 v5"/>
<path d="M264.5 454 v-5 M264.5 38 v5"/>
<path d="M369.5 454 v-5 M369.5 38 v5"/>
<path d="M474.5 454 v-5 M474.5 38 v5"/>
<path d="M579.5 454 v-5 M579.5 38 v5"/>
<path d="M54 107.5 h5 M622 107.5 h-5"/>
<path d="M54 176.5 h5 M622 176.5 h-5"/>
<path d="M54 246.5 h5 M622 246.5 h-5"/>
<path d="M54 315.5 h5 M622 315.5 h-5"/>
<path d="M54 384.5 h5 M622 384.5 h-5"/>
</g>
<path d="M581 48.5 H610" stroke="#ff0000" stroke-width="1" shape-rendering="crispEdges"/>
<text xml:space="preserve" y="53"><tspan class="m" x="538.85 544.85 550.85 556.85 562.85" y="53">line </tspan><tspan x="568.5" y="53">1</tspan></text>
<path d="M581 61.5 H610" stroke="#00c000" stroke-width="1" shape-rendering="crispEdges"/>
<text xml:space="preserve" y="66"><tspan class="m" x="538.85 544.85 550.85 556.85 562.85" y="66">line </tspan><tspan x="568.5" y="66">2</tspan></text>
<path d="M581 74.5 H610" stroke="#0080ff" stroke-width="1" shape-rendering="crispEdges"/>
<text xml:space="preserve" y="79"><tspan class="m" x="538.85 544.85 550.85 556.85 562.85" y="79">line </tspan><tspan x="568.5" y="79">3</tspan></text>
<text xml:space="preserve" y="23"><tspan class="m" x="312.85" y="23">p</tspan><tspan x="318.5 324.5 330.5 336.5" y="23">0120</tspan><tspan class="u" textLength="5" lengthAdjust="spacingAndGlyphs" x="343" y="21">_</tspan><tspan x="348.5 354.5" y="23">22</tspan></text>
<text xml:space="preserve" y="471"><tspan x="53.5" y="471">0</tspan></text>
<text xml:space="preserve" y="471"><tspan x="152.5 158.5 164.5" y="471">100</tspan></text>
<text xml:space="preserve" y="471"><tspan x="257.5 263.5 269.5" y="471">200</tspan></text>
<text xml:space="preserve" y="471"><tspan x="362.5 368.5 374.5" y="471">300</tspan></text>
<text xml:space="preserve" y="471"><tspan x="467.5 473.5 479.5" y="471">400</tspan></text>
<text xml:space="preserve" y="471"><tspan x="572.5 578.5 584.5" y="471">500</tspan></text>
<text xml:space="preserve" y="43"><tspan x="17.5 23.5 29.5 35.5 41.5" y="43">15000</tspan></text>
<text xml:space="preserve" y="112"><tspan x="17.5 23.5 29.5 35.5 41.5" y="112">10000</tspan></text>
<text xml:space="preserve" y="181"><tspan x="23.5 29.5 35.5 41.5" y="181">5000</tspan></text>
<text xml:space="preserve" y="251"><tspan x="41.5" y="251">0</tspan></text>
<text xml:space="preserve" y="320"><tspan class="h" x="17.45" y="322.2">-</tspan><tspan x="23.5 29.5 35.5 41.5" y="320">5000</tspan></text>
<text xml:space="preserve" y="389"><tspan class="h" x="11.45" y="391.2">-</tspan><tspan x="17.5 23.5 29.5 35.5 41.5" y="389">10000</tspan></text>
<text xml:space="preserve" y="458"><tspan class="h" x="11.45" y="460.2">-</tspan><tspan x="17.5 23.5 29.5 35.5 41.5" y="458">15000</tspan></text>
</svg></body></html>
